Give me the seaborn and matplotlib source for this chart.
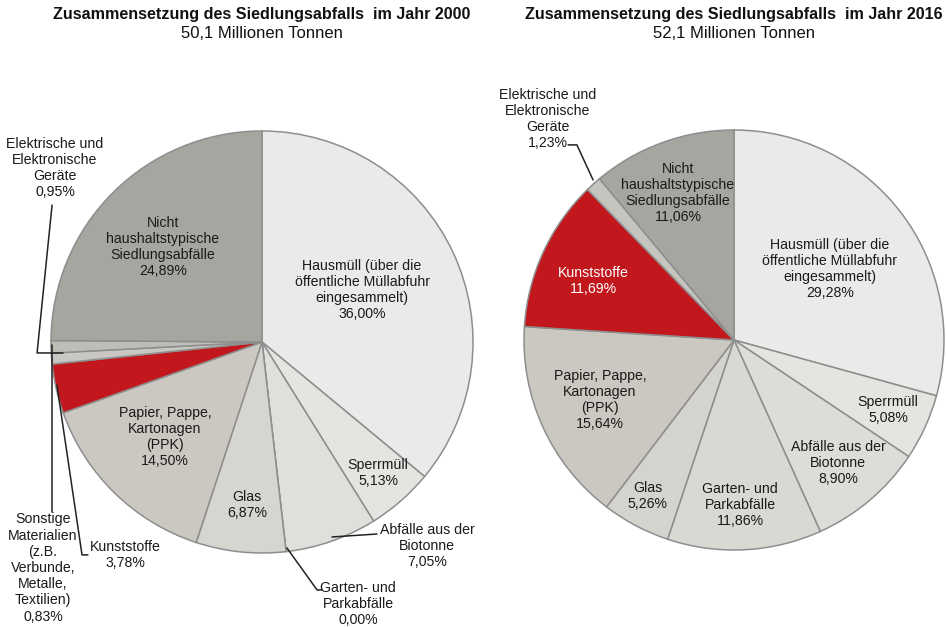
import matplotlib
matplotlib.use("Agg")
import matplotlib.pyplot as plt
import seaborn as sns

sns.set_theme(style="white")
plt.rcParams['font.family'] = ['Liberation Sans', 'DejaVu Sans']

# ---------------- data ----------------
titles = ["Zusammensetzung des Siedlungsabfalls  im Jahr 2000",
          "Zusammensetzung des Siedlungsabfalls  im Jahr 2016"]
subtitles = ["50,1 Millionen Tonnen", "52,1 Millionen Tonnen"]

cats_2000 = ["Hausmüll (über die\nöffentliche Müllabfuhr\neingesammelt)",
             "Sperrmüll", "Abfälle aus der\nBiotonne", "Garten- und\nParkabfälle",
             "Glas", "Papier, Pappe,\nKartonagen\n(PPK)", "Kunststoffe",
             "Sonstige\nMaterialien\n(z.B.\nVerbunde,\nMetalle,\nTextilien)",
             "Elektrische und\nElektronische\nGeräte",
             "Nicht\nhaushaltstypische\nSiedlungsabfälle"]
vals_2000 = [36.00, 5.13, 7.05, 0.00, 6.87, 14.50, 3.78, 0.83, 0.95, 24.89]

cats_2016 = ["Hausmüll (über die\nöffentliche Müllabfuhr\neingesammelt)",
             "Sperrmüll", "Abfälle aus der\nBiotonne", "Garten- und\nParkabfälle",
             "Glas", "Papier, Pappe,\nKartonagen\n(PPK)", "Kunststoffe",
             "Elektrische und\nElektronische\nGeräte",
             "Nicht\nhaushaltstypische\nSiedlungsabfälle"]
vals_2016 = [29.28, 5.08, 8.90, 11.86, 5.26, 15.64, 11.69, 1.23, 11.06]

# ---------------- style ----------------
colors_2000 = ['#ebeae8', '#e5e4e1', '#e0dfdb', '#dcdad6', '#d7d5d0', '#cbc8c1',
               '#c1171d', '#c9c7c1', '#bfbdb7', '#a7a5a0']
colors_2016 = ['#ebeae8', '#e5e4e1', '#dedcd8', '#dad8d3', '#d5d3ce', '#cbc8c1',
               '#c1171d', '#c6c4be', '#a7a5a0']

# label positions (pie units, radius = 1), text colour, leader polylines
lab_2000 = [(0.474, 0.246), (0.550, -0.621), (0.782, -0.967), (0.455, -1.242),
            (-0.071, -0.773), (-0.460, -0.450), (-0.649, -1.009), (-1.038, -1.071),
            (-0.981, 0.825), (-0.469, 0.450)]
lead_2000 = {2: [(0.332, -0.924), (0.545, -0.910)],
             3: [(0.118, -0.976), (0.261, -1.175), (0.284, -1.175)],
             6: [(-0.972, -0.204), (-0.853, -1.009), (-0.825, -1.009)],
             7: [(-0.995, -0.014), (-0.995, -0.806)],
             8: [(-0.995, 0.649), (-1.066, -0.052), (-0.943, -0.052)]}
lab_2016 = [(0.457, 0.338), (0.733, -0.333), (0.495, -0.586), (0.029, -0.786),
            (-0.410, -0.743), (-0.638, -0.286), (-0.671, 0.281), (-0.886, 1.052),
            (-0.267, 0.700)]
lead_2016 = {7: [(-0.790, 0.929), (-0.748, 0.929), (-0.671, 0.762)]}
white_2016 = {6}

W, H = 946, 627
fig = plt.figure(figsize=(W / 100, H / 100), dpi=100)
fig.patch.set_facecolor('white')


def draw(cx, cy, R, cats, vals, cols, labs, leads, whites, title, sub):
    ax = fig.add_axes([(cx - R) / W, (H - cy - R) / H, 2 * R / W, 2 * R / H])
    ax.pie(vals, colors=cols, startangle=90, counterclock=False, radius=1,
           wedgeprops=dict(edgecolor='#8e8e8e', linewidth=1.1))
    ax.set_xlim(-1, 1)
    ax.set_ylim(-1, 1)
    ax.set_aspect('equal')
    ax.axis('off')
    for i, (c, v) in enumerate(zip(cats, vals)):
        txt = c + "\n" + f"{v:.2f}".replace('.', ',') + "%"
        x, y = labs[i]
        ax.text(x, y, txt, ha='center', va='center', fontsize=10.2,
                color='white' if i in whites else '#1a1a1a',
                linespacing=1.2, clip_on=False)
        if i in leads:
            xs = [p[0] for p in leads[i]]
            ys = [p[1] for p in leads[i]]
            ax.plot(xs, ys, color='#222222', lw=1.1, clip_on=False)
    fig.text(cx / W, 1 - 15 / H, title, ha='center', va='center',
             fontsize=11.6, fontweight='bold', color='#111111')
    fig.text(cx / W, 1 - 34 / H, sub, ha='center', va='center',
             fontsize=12, color='#111111')


draw(262, 342, 211, cats_2000, vals_2000, colors_2000, lab_2000, lead_2000,
     set(), titles[0], subtitles[0])
draw(734, 340, 210, cats_2016, vals_2016, colors_2016, lab_2016, lead_2016,
     white_2016, titles[1], subtitles[1])

fig.savefig("out.png", dpi=100, facecolor='white')
